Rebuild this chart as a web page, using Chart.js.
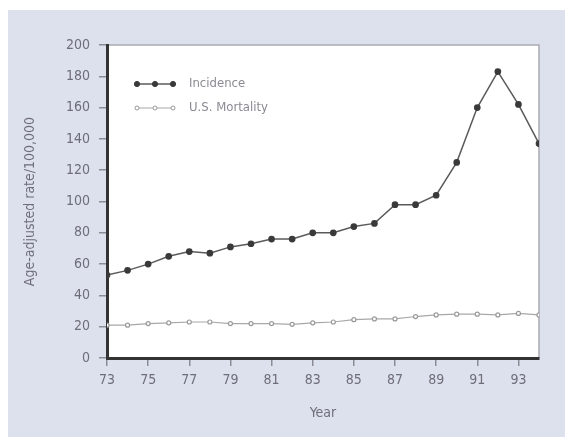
<!DOCTYPE html>
<html>
<head>
<meta charset="utf-8">
<script src="https://cdn.jsdelivr.net/npm/chart.js@4"></script>
<style>
    html, body { margin: 0; padding: 0; background: #fff; }
    #wrap { position: relative; width: 565px; height: 437px; overflow: hidden; }
    #bg { position: absolute; left: 8px; top: 10px; right: 0; bottom: 0; background: #dde1ee; }
    #chart { position: absolute; left: 0; top: 0; }
</style>
</head>
<body>
<div id="wrap">
    <div id="bg"></div>
    <canvas id="chart" width="565" height="437"></canvas>
</div>
<script>
// Data ================================================================================================================
const years = [73, 74, 75, 76, 77, 78, 79, 80, 81, 82, 83, 84, 85, 86, 87, 88, 89, 90, 91, 92, 93, 94];
const incidence = [53, 56, 60, 65, 68, 67, 71, 73, 76, 76, 80, 80, 84, 86, 98, 98, 104, 125, 160, 183, 162, 137];
const mortality = [21, 21, 22, 22.5, 23, 23, 22, 22, 22, 21.5, 22.5, 23, 24.5, 25, 25, 26.5, 27.5, 28, 28, 27.5, 28.5, 27.5];
const yTicks = [0, 20, 40, 60, 80, 100, 120, 140, 160, 180, 200];
const seriesNames = ["Incidence", "U.S. Mortality"];
// =====================================================================================================================

const FONT = "'Liberation Sans Narrow', 'DejaVu Sans Condensed', 'Liberation Sans', sans-serif";
const TXT = '#6e6e78';

function pairs(ys) {
    return years.map((x, i) => ({ x: x, y: ys[i] }));
}

// white plot area + thin top/right frame
const plotBox = {
    id: 'plotBox',
    beforeDraw(chart) {
        const { ctx, chartArea: a } = chart;
        ctx.save();
        ctx.fillStyle = '#ffffff';
        ctx.fillRect(a.left, a.top, a.right - a.left, a.bottom - a.top);
        ctx.strokeStyle = '#a9abb3';
        ctx.lineWidth = 1.5;
        ctx.beginPath();
        ctx.moveTo(a.left, a.top);
        ctx.lineTo(a.right, a.top);
        ctx.lineTo(a.right, a.bottom);
        ctx.stroke();
        ctx.restore();
    }
};

// legend inside the plot, top left
const innerLegend = {
    id: 'innerLegend',
    afterDatasetsDraw(chart) {
        const { ctx } = chart;
        ctx.save();
        const x0 = 137, x1 = 173;
        const rows = [84, 108];
        chart.data.datasets.forEach((ds, i) => {
            const y = rows[i];
            ctx.strokeStyle = ds.borderColor;
            ctx.lineWidth = ds.borderWidth;
            ctx.beginPath();
            ctx.moveTo(x0, y);
            ctx.lineTo(x1, y);
            ctx.stroke();
            [x0, (x0 + x1) / 2, x1].forEach(px => {
                ctx.beginPath();
                ctx.arc(px, y, ds.pointRadius, 0, Math.PI * 2);
                ctx.fillStyle = ds.pointBackgroundColor;
                ctx.fill();
                ctx.strokeStyle = ds.pointBorderColor;
                ctx.lineWidth = 1;
                ctx.stroke();
            });
            ctx.fillStyle = '#8a8a92';
            ctx.font = '13px ' + FONT;
            ctx.textBaseline = 'middle';
            ctx.fillText(ds.label, 189, y);
        });
        ctx.restore();
    }
};

new Chart(document.getElementById('chart'), {
    type: 'line',
    data: {
        datasets: [
            {
                label: seriesNames[0],
                data: pairs(incidence),
                borderColor: '#5a5a5a',
                borderWidth: 1.5,
                pointRadius: 2.6,
                pointBackgroundColor: '#3a3a3a',
                pointBorderColor: '#3a3a3a',
                tension: 0
            },
            {
                label: seriesNames[1],
                data: pairs(mortality),
                borderColor: '#a8a8a8',
                borderWidth: 1.2,
                pointRadius: 2,
                pointBackgroundColor: '#ffffff',
                pointBorderColor: '#9a9a9a',
                tension: 0
            }
        ]
    },
    options: {
        responsive: false,
        animation: false,
        layout: { padding: { left: 18, right: 26, top: 45, bottom: 9 } },
        plugins: {
            legend: { display: false },
            tooltip: { enabled: false }
        },
        scales: {
            x: {
                type: 'linear',
                min: 73,
                max: 94,
                afterBuildTicks: s => { s.ticks = s.ticks.filter(t => t.value % 2 === 1); },
                afterFit: s => { s.height = 70; },
                ticks: { stepSize: 1, color: TXT, font: { family: FONT, size: 14 }, padding: 6, maxRotation: 0 },
                grid: { drawOnChartArea: false, drawTicks: true, tickLength: 8, color: '#8c8c94', lineWidth: 1.5 },
                border: { color: '#333333', width: 3 },
                title: { display: true, text: 'Year', color: TXT, font: { family: FONT, size: 14 }, padding: { top: 12, bottom: 6 } }
            },
            y: {
                min: 0,
                max: 200,
                afterBuildTicks: s => { s.ticks = yTicks.map(v => ({ value: v })); },
                afterFit: s => { s.width = 89; },
                ticks: { color: TXT, font: { family: FONT, size: 14 }, padding: 9 },
                grid: { drawOnChartArea: false, drawTicks: true, tickLength: 8, color: '#8c8c94', lineWidth: 1.5 },
                border: { color: '#333333', width: 3 },
                title: { display: true, text: 'Age-adjusted rate/100,000', color: TXT, font: { family: FONT, size: 14 }, padding: { bottom: 8 } }
            }
        }
    },
    plugins: [plotBox, innerLegend]
});
</script>
</body>
</html>
